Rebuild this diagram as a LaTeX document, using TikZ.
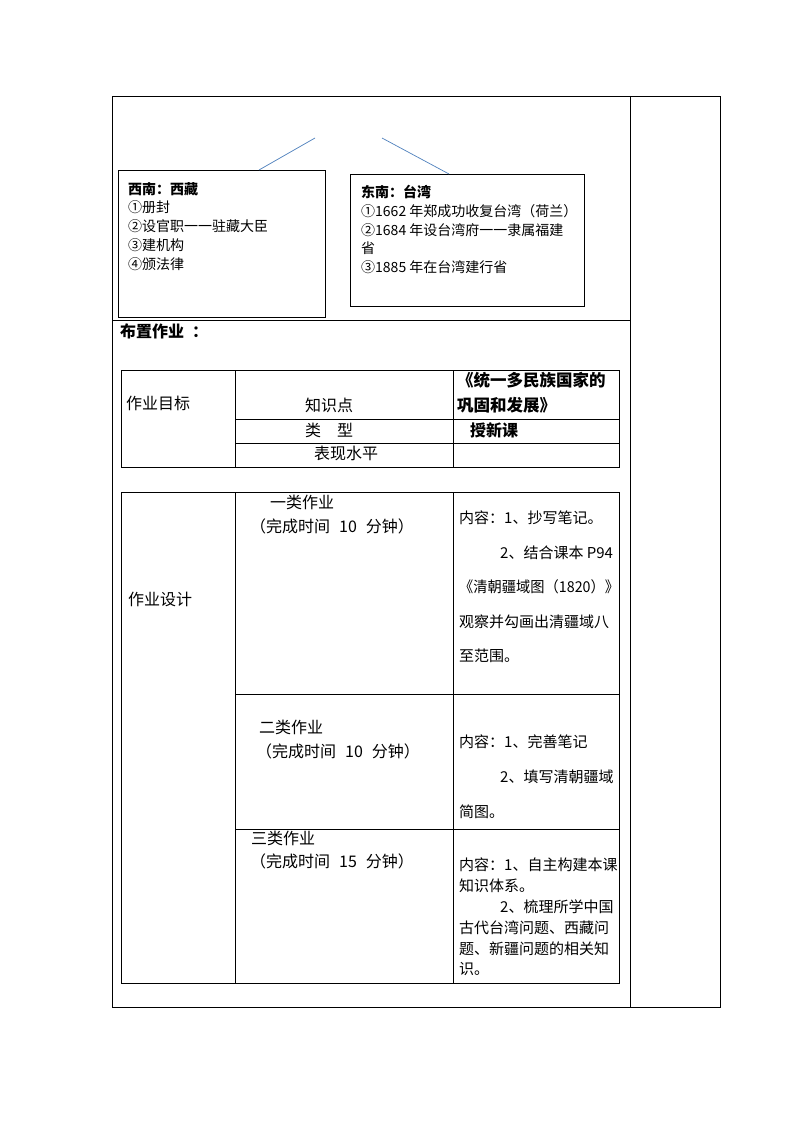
\documentclass[tikz,border=0pt]{standalone}
\usepackage{fontspec}
\usepackage{graphicx}
\setmainfont{Noto Sans CJK SC}
\definecolor{linkblue}{RGB}{79,129,189}

\begin{document}
\begin{tikzpicture}[x=1pt,y=-1pt,
    rule/.style={line width=0.8pt},
    link/.style={draw=linkblue,line width=0.7pt},
    note/.style={draw,line width=0.8pt,anchor=north west,inner sep=0pt},
    small/.style={anchor=north west,inner sep=0pt,align=left,font=\fontsize{14}{18.8}\selectfont},
    cell/.style={anchor=north west,inner sep=0pt,align=left,font=\fontsize{16}{24}\selectfont},
    side/.style={anchor=north west,inner sep=0pt,align=left}]
    \useasboundingbox[fill=white] (0,0) rectangle (794,1123);
    % outer frame
    \draw[rule] (112,96) rectangle (720,1007);
    \draw[rule] (630,96) -- (630,1007);
    \draw[rule] (112,320) -- (630,320);
    % two boxes with links
    \node[note,minimum width=207,minimum height=147] (xizang) at (118,170) {};
    \node[note,minimum width=234,minimum height=132] (taiwan) at (350,174) {};
    \coordinate (topl) at (315,138);
    \coordinate (topr) at (382,138);
    \draw[link] (topl) -- ([xshift=141pt]xizang.north west);
    \draw[link] (topr) -- ([xshift=99pt]taiwan.north west);
    \node[small] (xzt) at (128,182) {\textbf{西南：西藏}\\①册封\\②设官职一一驻藏大臣\\③建机构\\④颁法律};
    \node[small] (twt) at (361,185) {\textbf{东南：台湾}\\①1662 年郑成功收复台湾（荷兰）\\②1684\ 年设台湾府一一隶属福建\\省\\③1885 年在台湾建行省};
    \node[cell] (hw) at (120,324) {\textbf{布置作业\hspace{8pt}：}};
    % table one
    \draw[rule] (121,370) rectangle (619,467);
    \draw[rule] (235,370) -- (235,467);
    \draw[rule] (453,370) -- (453,467);
    \draw[rule] (235,419) -- (619,419);
    \draw[rule] (235,443) -- (619,443);
    \node[cell] (goal) at (126,396) {作业目标};
    \node[cell] (kp) at (305,398) {知识点};
    \node[cell,font=\fontsize{16.5}{25}\selectfont\bfseries] (title) at (457,372) {《统一多民族国家的\\巩固和发展》};
    \node[cell] (kind) at (305,423) {类\hspace{16pt}型};
    \node[cell] (kindv) at (470,423) {\textbf{授新课}};
    \node[cell] (level) at (314,446) {表现水平};
    % table two
    \draw[rule] (121,492) rectangle (619,983);
    \draw[rule] (235,492) -- (235,983);
    \draw[rule] (453,492) -- (453,983);
    \draw[rule] (235,694) -- (619,694);
    \draw[rule] (235,829) -- (619,829);
    \node[cell] (design) at (128,592) {作业设计};
    \node[cell] (one) at (250,495) {\hspace*{20pt}一类作业\\（完成时间\hspace{9pt}10\hspace{9pt}分钟）};
    \node[side,font=\fontsize{15}{34.5}\selectfont] (onev) at (459,511) {内容：1、抄写笔记。\\\hspace*{41pt}2、结合课本\ P94\\\scalebox{0.95}[1]{《清朝疆域图（1820）》}\\观察并勾画出清疆域八\\至范围。};
    \node[cell] (two) at (256,720) {\hspace*{3pt}二类作业\\（完成时间\hspace{9pt}10\hspace{9pt}分钟）};
    \node[side,font=\fontsize{15}{35}\selectfont] (twov) at (459,735) {内容：1、完善笔记\\\hspace*{41pt}2、填写清朝疆域\\简图。};
    \node[cell,font=\fontsize{16}{23}\selectfont] (three) at (250,831) {\hspace*{1pt}三类作业\\（完成时间\hspace{9pt}15\hspace{9pt}分钟）};
    \node[side,font=\fontsize{15}{20.8}\selectfont] (threev) at (459,858) {内容：1、自主构建本课\\知识体系。\\\hspace*{41pt}2、梳理所学中国\\古代台湾问题、西藏问\\题、新疆问题的相关知\\识。};
\end{tikzpicture}
\end{document}
